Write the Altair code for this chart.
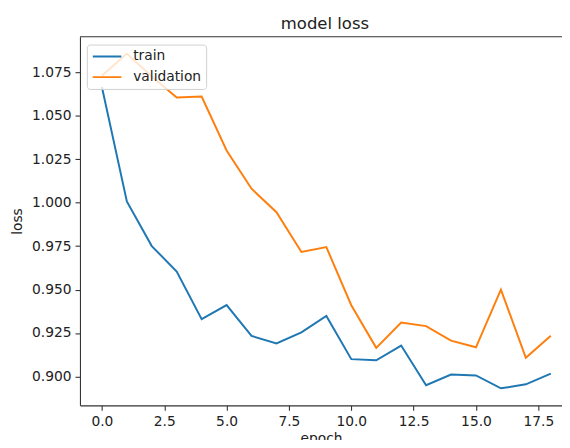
import altair as alt
import pandas as pd

epochs = list(range(19))
train = [1.0665, 1.0007, 0.9750, 0.9604, 0.9330, 0.9411, 0.9233, 0.9190, 0.9254,
         0.9348, 0.9100, 0.9093, 0.9178, 0.8950, 0.9011, 0.9006, 0.8932, 0.8955, 0.9017]
validation = [1.0730, 1.0857, 1.0725, 1.0605, 1.0610, 1.0300, 1.0080, 0.9945, 0.9716,
              0.9744, 0.9410, 0.9165, 0.9310, 0.9290, 0.9206, 0.9168, 0.9500, 0.9108, 0.9235]
series_names = ["train", "validation"]
series_colors = ["#1f77b4", "#ff7f0e"]
x_ticks = [0.0, 2.5, 5.0, 7.5, 10.0, 12.5, 15.0, 17.5]
y_ticks = [0.900, 0.925, 0.950, 0.975, 1.000, 1.025, 1.050, 1.075]
chart_title = ["model loss"]

rows = []
for e, t, v in zip(epochs, train, validation):
    rows.append({"epoch": e, "loss": t, "series": "train"})
    rows.append({"epoch": e, "loss": v, "series": "validation"})
df = pd.DataFrame(rows)

W, H = 489, 374
FONT = "DejaVu Sans"

lines = alt.Chart(df).mark_line(strokeWidth=2, clip=True).encode(
    x=alt.X("epoch:Q", title="epoch",
            scale=alt.Scale(domain=[-0.88, 18.45], nice=False, zero=False),
            axis=alt.Axis(values=x_ticks, format=".1f", grid=False, tickSize=5,
                          labelPadding=4, titlePadding=4, labelFlush=False)),
    y=alt.Y("loss:Q", title="loss",
            scale=alt.Scale(domain=[0.8834, 1.0954], nice=False, zero=False),
            axis=alt.Axis(values=y_ticks, format=".3f", grid=False, tickSize=5,
                          labelPadding=4, titlePadding=7, labelFlush=False)),
    color=alt.Color("series:N", sort=series_names,
                    scale=alt.Scale(domain=series_names, range=series_colors),
                    legend=alt.Legend(title=None, orient="none", legendX=7, legendY=8,
                                      symbolType="stroke", symbolSize=841,
                                      symbolStrokeWidth=2, labelFontSize=14,
                                      labelFont=FONT, labelColor="#222",
                                      labelOffset=11, rowPadding=7, padding=5,
                                      clipHeight=14,
                                      strokeColor="#d0d0d0", cornerRadius=3,
                                      fillColor="rgba(255,255,255,0.8)")),
)

top_frame = alt.Chart(pd.DataFrame({"a": [0]})).mark_rule(color="#333", strokeWidth=1.1).encode(
    y=alt.value(0), x=alt.value(0), x2=alt.value(W)
)

title_text = alt.Chart(pd.DataFrame({"t": chart_title})).mark_text(
    font=FONT, fontSize=16.7, color="#222", align="center", baseline="alphabetic"
).encode(
    text="t:N", x=alt.value(W / 2 + 4), y=alt.value(-8)
)

chart = alt.layer(lines, top_frame, title_text).properties(
    width=W, height=H,
    autosize=alt.AutoSizeParams(type="none"),
    padding={"left": 73, "top": 26, "right": 0, "bottom": 32},
).configure_view(stroke=None).configure_axis(
    domainColor="#333", tickColor="#333", labelColor="#222", titleColor="#222",
    labelFont=FONT, titleFont=FONT, labelFontSize=14, titleFontSize=14,
    titleFontWeight="normal", domainWidth=1.1, tickWidth=1.1
)

chart.save("out.html", embed_options={"renderer": "svg", "actions": False})
